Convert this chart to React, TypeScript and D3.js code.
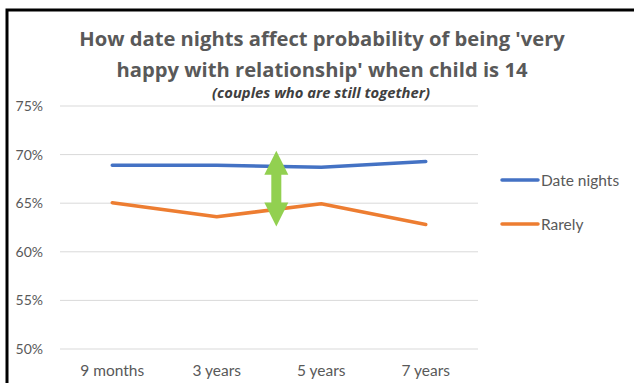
import React, { useEffect, useRef } from 'react';
import * as d3 from 'd3';

const categories = ['9 months', '3 years', '5 years', '7 years'];
const dateNights = [68.9, 68.9, 68.7, 69.3];
const rarely = [65.05, 63.6, 64.95, 62.8];
const yTicks = [50, 55, 60, 65, 70, 75];
const seriesNames = ['Date nights', 'Rarely'];
const seriesColors = ['#4472C4', '#ED7D31'];
// gap marker between the two lines (value range)
const arrowRange = [62.6, 70.4];

function App() {
  const ref = useRef<SVGSVGElement>(null);

  useEffect(() => {
    const w = 634;
    const h = 383;
    const svg = d3.select(ref.current).attr('width', w).attr('height', h);
    svg.selectAll('*').remove();

    svg.append('rect').attr('width', w).attr('height', h).attr('fill', '#fff');

    const x = d3.scaleBand().domain(categories).range([60, 478]);
    const y = d3.scaleLinear().domain([50, 75]).range([349, 106]);
    const font = 'Lato, Calibri, sans-serif';
    const titleFont = '"Open Sans", Calibri, sans-serif';

    // frame
    svg.append('path')
      .attr('d', `M7,${h + 5} L7,10 L${w + 5},10`)
      .attr('fill', 'none')
      .attr('stroke', '#000')
      .attr('stroke-width', 3);

    // TITLE
    const title = ["How date nights affect probability of being 'very", "happy with relationship' when child is 14"];
    svg.append('g').selectAll('text')
      .data(title)
      .join('text')
      .attr('x', 322)
      .attr('y', (d, i) => 46 + i * 31)
      .attr('text-anchor', 'middle')
      .attr('font-family', titleFont)
      .attr('font-weight', 'bold')
      .attr('font-size', 20.2)
      .attr('fill', '#595959')
      .text(d => d);

    svg.append('text')
      .attr('x', 321)
      .attr('y', 98)
      .attr('text-anchor', 'middle')
      .attr('font-family', titleFont)
      .attr('font-weight', 'bold')
      .attr('font-style', 'italic')
      .attr('font-size', 14.8)
      .attr('fill', '#404040')
      .text('(couples who are still together)');

    // GRID + Y LABELS
    const grid = svg.append('g');
    grid.selectAll('line')
      .data(yTicks)
      .join('line')
      .attr('x1', x.range()[0])
      .attr('x2', x.range()[1])
      .attr('y1', d => y(d))
      .attr('y2', d => y(d))
      .attr('stroke', '#D9D9D9')
      .attr('stroke-width', 1);
    grid.selectAll('text')
      .data(yTicks)
      .join('text')
      .attr('x', 43)
      .attr('y', d => y(d) + 5)
      .attr('text-anchor', 'end')
      .attr('font-family', font)
      .attr('font-size', 14)
      .attr('fill', '#595959')
      .text(d => d + '%');

    // X LABELS
    svg.append('g').selectAll('text')
      .data(categories)
      .join('text')
      .attr('x', d => (x(d) as number) + x.bandwidth() / 2)
      .attr('y', 376)
      .attr('text-anchor', 'middle')
      .attr('font-family', font)
      .attr('font-size', 15.5)
      .attr('fill', '#595959')
      .text(d => d);

    // LINES
    const line = d3.line<number>()
      .x((d, i) => (x(categories[i]) as number) + x.bandwidth() / 2)
      .y(d => y(d));
    [dateNights, rarely].forEach((s, k) => {
      svg.append('path')
        .attr('d', line(s))
        .attr('fill', 'none')
        .attr('stroke', seriesColors[k])
        .attr('stroke-width', 3.5)
        .attr('stroke-linecap', 'round')
        .attr('stroke-linejoin', 'round');
    });

    // DOUBLE ARROW
    const ax = (x('3 years') as number) + x.bandwidth() * 1.07;
    const top = y(arrowRange[1]);
    const bot = y(arrowRange[0]);
    const head = 24;
    const hw = 12;
    const sw = 5;
    svg.append('path')
      .attr('d', [
        `M${ax},${top}`,
        `L${ax + hw},${top + head}`,
        `L${ax + sw},${top + head}`,
        `L${ax + sw},${bot - head}`,
        `L${ax + hw},${bot - head}`,
        `L${ax},${bot}`,
        `L${ax - hw},${bot - head}`,
        `L${ax - sw},${bot - head}`,
        `L${ax - sw},${top + head}`,
        `L${ax - hw},${top + head}`,
        'Z'
      ].join(' '))
      .attr('fill', '#92D050');

    // LEGEND
    const legend = svg.append('g').selectAll('g')
      .data(seriesNames)
      .join('g')
      .attr('transform', (d, i) => `translate(502,${180 + i * 44})`);
    legend.append('line')
      .attr('x1', 0).attr('x2', 36)
      .attr('stroke', (d, i) => seriesColors[i])
      .attr('stroke-width', 3.5)
      .attr('stroke-linecap', 'round');
    legend.append('text')
      .attr('x', 39)
      .attr('y', 5.5)
      .attr('font-family', font)
      .attr('font-size', 15.5)
      .attr('fill', '#595959')
      .text(d => d);
  }, []);

  return (
    <div style={{ position: 'absolute', left: 0, top: 0 }}>
      <svg ref={ref} style={{ display: 'block' }}></svg>
    </div>
  );
}

export default App;
